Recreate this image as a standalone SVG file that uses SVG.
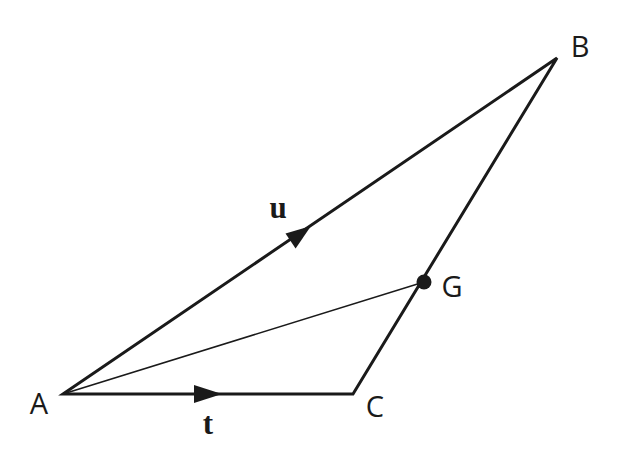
<svg xmlns="http://www.w3.org/2000/svg" width="622" height="462" viewBox="0 0 622 462">
<defs>
<style>
.edge{stroke:#1a1a1a;fill:none;stroke-linejoin:miter}
.thick{stroke-width:3}
.thin{stroke-width:1.6}
.lbl{font-family:"Open Sans","Liberation Sans",sans-serif;font-size:29px;fill:#1a1a1a}
.vec{font-family:"Liberation Serif",serif;font-weight:bold;font-size:31px;fill:#1a1a1a}
.head{fill:#1a1a1a}
</style>
</defs>
<rect width="622" height="462" fill="#fff"/>
<g id="connectors">
<path class="edge thick" d="M63,394 L557,58 L353,394 Z"/>
<line class="edge thin" x1="63" y1="394" x2="424" y2="282"/>
<polygon class="head" points="222,394 194,385 194,403"/>
<polygon class="head" points="311,226 285.5,233.6 295.6,248.5"/>
</g>
<g id="A"><text class="lbl" x="39" y="414" text-anchor="middle">A</text></g>
<g id="B"><text class="lbl" x="580" y="57" text-anchor="middle">B</text></g>
<g id="C"><text class="lbl" x="375" y="417" text-anchor="middle">C</text></g>
<g id="G"><circle cx="424" cy="282" r="7.5" fill="#1a1a1a"/><text class="lbl" x="452" y="297" text-anchor="middle">G</text></g>
<g id="u"><text class="vec" x="278" y="218" text-anchor="middle">u</text></g>
<g id="t"><text class="vec" x="208" y="434" text-anchor="middle">t</text></g>
</svg>
